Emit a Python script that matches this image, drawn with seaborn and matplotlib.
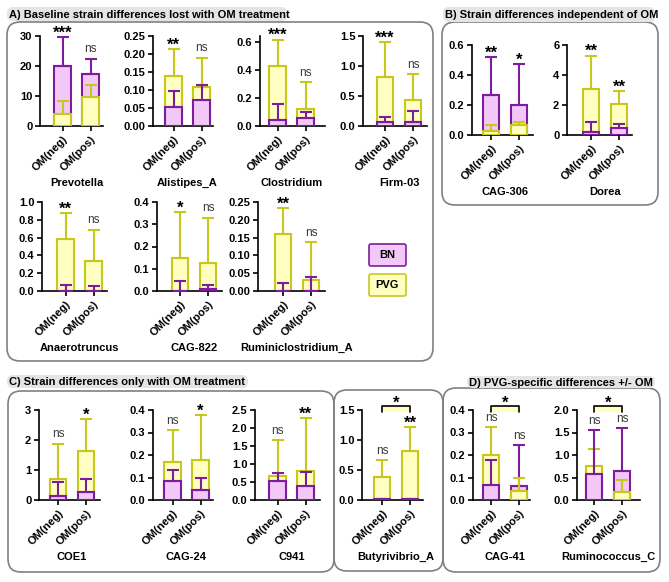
import numpy as np
import pandas as pd
import matplotlib
matplotlib.use("Agg")
import matplotlib.pyplot as plt
import seaborn as sns
from matplotlib.patches import FancyBboxPatch, Rectangle
import matplotlib.transforms as mtransforms

# ---------------- data ----------------
conditions = ["OM(neg)", "OM(pos)"]
strains = ["BN", "PVG"]
genera = ["Prevotella", "Alistipes_A", "Clostridium", "Firm-03",
          "Anaerotruncus", "CAG-822", "Ruminiclostridium_A",
          "CAG-306", "Dorea",
          "COE1", "CAG-24", "C941",
          "Butyrivibrio_A", "CAG-41", "Ruminococcus_C"]
bn_mean = [[20.0, 17.5], [0.052, 0.073], [0.045, 0.055], [0.07, 0.07],
           [0.002, 0.002], [0.002, 0.008], [0.001, 0.001],
           [0.265, 0.20], [0.20, 0.48],
           [0.13, 0.27], [0.085, 0.045], [0.53, 0.39],
           [0.02, 0.02], [0.066, 0.063], [0.58, 0.64]]
bn_upper = [[29.7, 22.5], [0.096, 0.115], [0.155, 0.10], [0.15, 0.25],
            [0.065, 0.055], [0.045, 0.025], [0.022, 0.038],
            [0.52, 0.475], [0.85, 0.72],
            [0.60, 0.70], [0.135, 0.096], [0.76, 0.77],
            [0.025, 0.025], [0.18, 0.243], [1.55, 1.60]]
pvg_mean = [[4.0, 9.7], [0.14, 0.108], [0.43, 0.12], [0.82, 0.43],
            [0.58, 0.34], [0.15, 0.125], [0.16, 0.03],
            [0.03, 0.065], [3.1, 2.05],
            [0.70, 1.62], [0.17, 0.177], [0.66, 0.80],
            [0.39, 0.82], [0.20, 0.038], [0.75, 0.17]]
pvg_upper = [[8.5, 13.8], [0.215, 0.19], [0.615, 0.31], [1.40, 0.87],
             [0.875, 0.69], [0.355, 0.33], [0.233, 0.137],
             [0.07, 0.085], [5.3, 2.92],
             [1.88, 2.70], [0.312, 0.376], [1.66, 2.28],
             [0.66, 1.22], [0.325, 0.10], [1.13, 0.45]]
sig_labels = [["***", "ns"], ["**", "ns"], ["***", "ns"], ["***", "ns"],
              ["**", "ns"], ["*", "ns"], ["**", "ns"],
              ["**", "*"], ["**", "**"],
              ["ns", "*"], ["ns", "*"], ["ns", "**"],
              ["ns", "**"], ["ns", "ns"], ["ns", "ns"]]
pvg_om_sig = ["", "", "", "", "", "", "", "", "", "", "", "", "*", "*", "*"]
y_tick_labels = [["0", "10", "20", "30"],
                 ["0.00", "0.05", "0.10", "0.15", "0.20", "0.25"],
                 ["0.0", "0.2", "0.4", "0.6"],
                 ["0.0", "0.5", "1.0", "1.5"],
                 ["0.0", "0.2", "0.4", "0.6", "0.8", "1.0"],
                 ["0.0", "0.1", "0.2", "0.3", "0.4"],
                 ["0.00", "0.05", "0.10", "0.15", "0.20", "0.25"],
                 ["0.0", "0.2", "0.4", "0.6"],
                 ["0", "2", "4", "6"],
                 ["0", "1", "2", "3"],
                 ["0.0", "0.1", "0.2", "0.3", "0.4"],
                 ["0.0", "0.5", "1.0", "1.5", "2.0", "2.5"],
                 ["0.0", "0.5", "1.0", "1.5"],
                 ["0.0", "0.1", "0.2", "0.3", "0.4"],
                 ["0.0", "0.5", "1.0", "1.5", "2.0"]]
y_max = [30, 0.25, 0.64, 1.5, 1.0, 0.4, 0.25, 0.6, 6, 3, 0.4, 2.5, 1.5, 0.4, 2.0]

panel_titles = ["A) Baseline strain differences lost with OM treatment",
                "B) Strain differences independent of OM",
                "C) Strain differences only with OM treatment",
                "D) PVG-specific differences +/- OM"]

# ---------------- layout (pixels) ----------------
W, H = 669, 582
# (spine x, right x, top y, bottom y, centre of first bar)
layout = [(40, 103, 36, 126, 62.5), (153, 213, 36, 126, 173.5),
          (260, 325, 36, 126, 277.5), (363, 427, 36, 126, 385),
          (42, 107, 202, 291, 65.5), (157, 222, 202, 291, 180),
          (258, 325, 202, 291, 283),
          (472, 533, 45, 135, 491), (567, 632, 45, 135, 591),
          (39, 100, 410, 500, 58), (153, 213, 410, 500, 172.5),
          (255, 320, 410, 500, 277.5),
          (362, 423, 410, 500, 382), (473, 530, 410, 500, 491),
          (577, 640, 410, 500, 594)]
step_px = 28.0

fill_c = {"BN": "#F1C8F7", "PVG": "#FFFFC2"}
edge_c = {"BN": "#7E1C9E", "PVG": "#C8C81C"}
box_c = "#808080"

sns.set_theme(style="ticks", rc={"axes.edgecolor": "black", "xtick.color": "black",
                                 "ytick.color": "black", "text.color": "black"})
plt.rcParams["font.family"] = ["Liberation Sans", "DejaVu Sans"]

fig = plt.figure(figsize=(W / 100, H / 100), dpi=100)
fig.patch.set_facecolor("white")

# overlay in pixel units for boxes / titles / legend
ov = fig.add_axes([0, 0, 1, 1])
ov.set_xlim(0, W)
ov.set_ylim(H, 0)
ov.axis("off")
ov.set_zorder(-1)

def rbox(x0, y0, x1, y1, r, fc, ec, lw):
    ov.add_patch(FancyBboxPatch((x0, y0), x1 - x0, y1 - y0,
                                boxstyle=f"round,pad=0,rounding_size={r}",
                                fc=fc, ec=ec, lw=lw))

rbox(7, 22, 433, 361, 13, "none", box_c, 1.2)
rbox(442, 22, 658, 205, 13, "none", box_c, 1.2)
rbox(8, 391, 334, 572, 13, "none", box_c, 1.2)
rbox(334, 390, 443, 571, 13, "none", box_c, 1.2)
rbox(443, 388, 660, 572, 13, "none", box_c, 1.2)

title_bg = [(7, 7, 287, 21), (443, 7, 655, 22), (7, 375, 248, 388), (467, 376, 655, 388)]
for t, (x0, y0, x1, y1) in zip(panel_titles, title_bg):
    rbox(x0, y0, x1, y1, 6, "#E4E4E4", "none", 0)
    ov.text(x0 + 2, (y0 + y1) / 2 + 0.5, t, ha="left", va="center",
            fontsize=8, fontweight="bold")

# legend
for s, (y0, y1) in zip(strains, [(244, 266), (274, 296)]):
    rbox(369, y0, 406, y1, 2, fill_c[s], edge_c[s], 1.2)
    ov.text(387.5, (y0 + y1) / 2, s, ha="center", va="center",
            fontsize=8, fontweight="bold")

# ---------------- charts ----------------
for g, name in enumerate(genera):
    sx, rx, ty, by, cx = layout[g]
    ax = fig.add_axes([sx / W, 1 - by / H, (rx - sx) / W, (by - ty) / H])
    ax.patch.set_facecolor("none")
    df = pd.DataFrame({"condition": conditions * 2,
                       "strain": [s for s in strains for _ in conditions],
                       "value": bn_mean[g] + pvg_mean[g]})
    sns.barplot(data=df, x="condition", y="value", hue="strain",
                order=conditions, hue_order=strains, palette=fill_c,
                saturation=1, dodge=False, width=0.6, errorbar=None,
                legend=False, linewidth=1.5, ax=ax)
    means = {"BN": bn_mean[g], "PVG": pvg_mean[g]}
    uppers = {"BN": bn_upper[g], "PVG": pvg_upper[g]}
    for cont, s in zip(ax.containers, strains):
        for i, p in enumerate(cont):
            p.set_edgecolor(edge_c[s])
            p.set_linewidth(1.5)
            other = "PVG" if s == "BN" else "BN"
            front = means[s][i] <= means[other][i]
            p.set_zorder(3 if front else 2)
            ax.errorbar([i], [means[s][i]],
                        yerr=[[0], [uppers[s][i] - means[s][i]]],
                        fmt="none", ecolor=edge_c[s], elinewidth=1.5,
                        capsize=4.5, capthick=1.5, zorder=5 if front else 4)
    ax.set_xlim((sx - cx) / step_px, (rx - cx) / step_px)
    ticks = [float(v) for v in y_tick_labels[g]]
    ax.set_ylim(0, y_max[g])
    ax.set_yticks(ticks)
    ax.set_yticklabels(y_tick_labels[g], fontsize=8, fontweight="bold")
    ax.set_xticks([0, 1])
    ax.set_xticklabels(conditions, rotation=45, ha="right",
                       rotation_mode="anchor", fontsize=8, fontweight="bold")
    ax.set_xlabel("")
    ax.set_ylabel("")
    sns.despine(ax=ax)
    for sp in ("left", "bottom"):
        ax.spines[sp].set_linewidth(1.2)
        ax.spines[sp].set_color("black")
    ax.tick_params(length=3.5, width=1.2, pad=2)

    for i in range(2):
        top = max(bn_upper[g][i], pvg_upper[g][i])
        lab = sig_labels[g][i]
        if lab == "ns":
            ax.annotate(lab, xy=(i, top), xytext=(0, 4.5), textcoords="offset points",
                        ha="center", va="baseline", fontsize=8.5, color="#3A3A3A",
                        annotation_clip=False)
        else:
            ax.annotate(lab, xy=(i, top), xytext=(0, -0.5), textcoords="offset points",
                        ha="center", va="baseline", fontsize=12, fontweight="bold",
                        annotation_clip=False)

    trans = mtransforms.blended_transform_factory(ax.transData, ax.transAxes)
    if pvg_om_sig[g]:
        ax.add_patch(Rectangle((0, 0.98), 1, 0.065, transform=trans,
                               fc=fill_c["PVG"], ec="none", clip_on=False, zorder=6))
        ax.plot([0, 0, 1, 1], [0.98, 1.045, 1.045, 0.98], transform=trans,
                color="black", lw=1.2, clip_on=False, zorder=7)
        ax.annotate(pvg_om_sig[g], xy=(0.5, 1.045), xycoords=trans,
                    xytext=(0, -1), textcoords="offset points", ha="center",
                    va="baseline", fontsize=12, fontweight="bold",
                    annotation_clip=False)

    ax.annotate(name, xy=(0.5, 0), xycoords=trans, xytext=(0, -41),
                textcoords="offset points", ha="center", va="center",
                fontsize=8, fontweight="bold", annotation_clip=False)

fig.savefig("out.png", dpi=100)
